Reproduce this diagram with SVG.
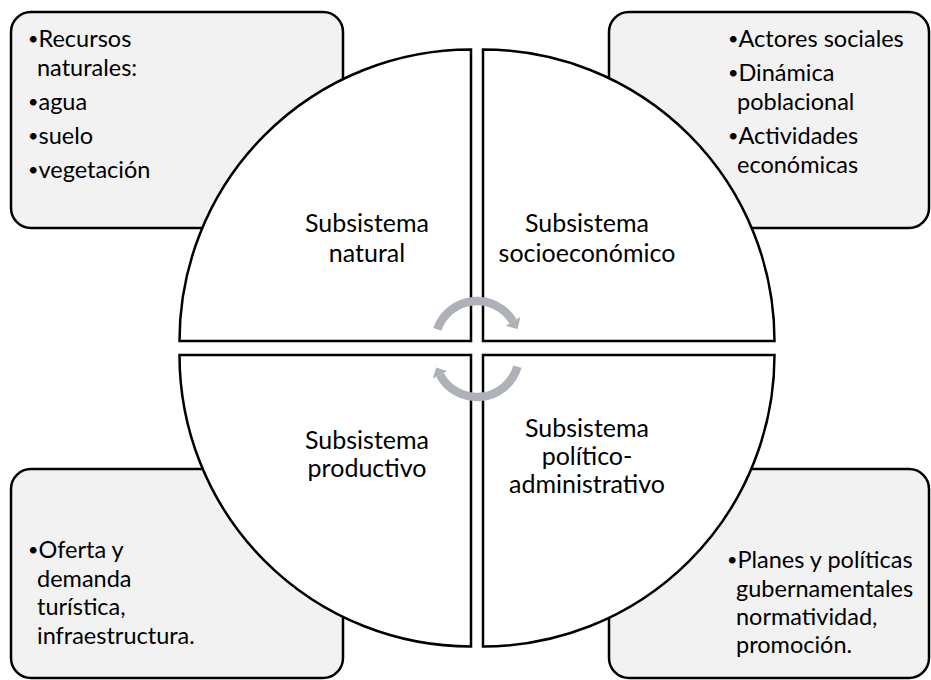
<svg xmlns="http://www.w3.org/2000/svg" width="931" height="680" viewBox="0 0 931 680">
<style>
.box{fill:#f2f2f2;stroke:#000;stroke-width:2.5}
.quad{fill:#fff;stroke:#000;stroke-width:2.5;stroke-linejoin:miter}
text{font-family:Lato,"Liberation Sans",sans-serif;font-size:25px;fill:#000}
.b{font-size:23.5px}
.bu{font-size:18px;baseline-shift:2px}
.c{text-anchor:middle}
.arr{fill:none;stroke:#aeb1b7;stroke-width:8.5}
.ah{fill:#aeb1b7}
</style>
<rect width="931" height="680" fill="#fff"/>
<g id="box-tl">
<rect class="box" x="11" y="12" width="332" height="216" rx="20"/>
<text class="b" x="28" y="47"><tspan class="bu">•</tspan>Recursos</text>
<text class="b" x="37" y="76">naturales:</text>
<text class="b" x="28" y="110"><tspan class="bu">•</tspan>agua</text>
<text class="b" x="28" y="144"><tspan class="bu">•</tspan>suelo</text>
<text class="b" x="28" y="178"><tspan class="bu">•</tspan>vegetación</text>
</g>
<g id="box-tr">
<rect class="box" x="609" y="12" width="320" height="216" rx="20"/>
<text class="b" x="728" y="47"><tspan class="bu">•</tspan>Actores sociales</text>
<text class="b" x="728" y="81"><tspan class="bu">•</tspan>Dinámica</text>
<text class="b" x="737" y="110">poblacional</text>
<text class="b" x="728" y="144"><tspan class="bu">•</tspan>Actividades</text>
<text class="b" x="737" y="173">económicas</text>
</g>
<g id="box-bl">
<rect class="box" x="11" y="469" width="332" height="209" rx="20"/>
<text class="b" x="28" y="558"><tspan class="bu">•</tspan>Oferta y</text>
<text class="b" x="37" y="587">demanda</text>
<text class="b" x="37" y="615">turística,</text>
<text class="b" x="37" y="644">infraestructura.</text>
</g>
<g id="box-br">
<rect class="box" x="609" y="469" width="320" height="209" rx="20"/>
<text class="b" x="727" y="568"><tspan class="bu">•</tspan>Planes y políticas</text>
<text class="b" x="736" y="597">gubernamentales</text>
<text class="b" x="736" y="625">normatividad,</text>
<text class="b" x="736" y="653">promoción.</text>
</g>
<g id="quad-natural">
<path class="quad" d="M471 341 L179.5 341 A291.5 291.5 0 0 1 471 49.5 Z"/>
<text class="c" x="367" y="232">Subsistema</text>
<text class="c" x="367" y="262">natural</text>
</g>
<g id="quad-socio">
<path class="quad" d="M483 341 L483 49.5 A291.5 291.5 0 0 1 774.5 341 Z"/>
<text class="c" x="587" y="232">Subsistema</text>
<text class="c" x="587" y="262">socioeconómico</text>
</g>
<g id="quad-productivo">
<path class="quad" d="M471 355 L471 646.5 A291.5 291.5 0 0 1 179.5 355 Z"/>
<text class="c" x="367" y="449">Subsistema</text>
<text class="c" x="367" y="477">productivo</text>
</g>
<g id="quad-politico">
<path class="quad" d="M483 355 L774.5 355 A291.5 291.5 0 0 1 483 646.5 Z"/>
<text class="c" x="587" y="437">Subsistema</text>
<text class="c" x="587" y="465">político-</text>
<text class="c" x="587" y="493">administrativo</text>
</g>
<g id="connectors">
<path class="arr" d="M437.3 329.3 A42 42 0 0 1 513 321.4"/>
<polygon class="ah" points="520.4,317 505.6,325.8 517.6,329.1"/>
<path class="arr" d="M517.4 366.6 A42 42 0 0 1 439.9 374.7"/>
<polygon class="ah" points="432.8,378.4 447,370.9 436.2,367.6"/>
</g>
</svg>
